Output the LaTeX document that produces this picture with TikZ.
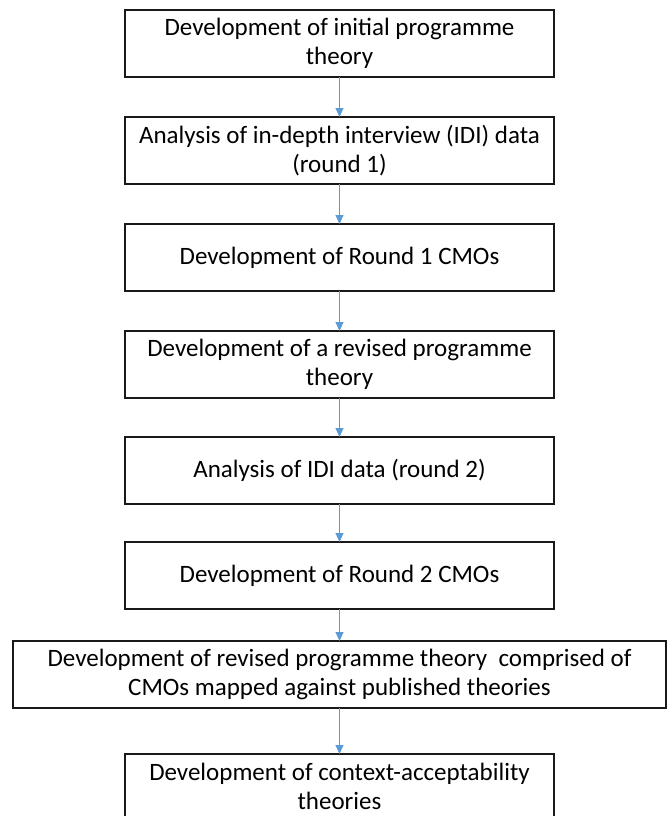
\documentclass[tikz,border=0pt]{standalone}
\usepackage{fontspec}
\setmainfont{Carlito}
\usetikzlibrary{positioning,arrows.meta}
\definecolor{flowblue}{RGB}{91,155,213}

\begin{document}
\begin{tikzpicture}[x=1pt,y=-1pt,node distance=40pt,
  stage/.style={draw=black!90, line width=1.5pt, minimum width=429pt,
    minimum height=67pt, align=center, inner sep=0pt, outer sep=0pt,
    font=\fontsize{25}{29}\selectfont},
  flow/.style={draw=flowblue, line width=0.9pt,
    -{Triangle[length=9pt,width=8pt]}}]
  \useasboundingbox (0,0) rectangle (667,816);

  % Define nodes
  \node[stage, anchor=north]          (initpt) at (339.5,10)
    {Development of initial programme\\theory};
  \node[stage, below=of initpt]       (idione) {Analysis of in-depth interview (IDI) data\\(round 1)};
  \node[stage, below=of idione]       (cmoone) {Development of Round 1 CMOs};
  \node[stage, below=of cmoone]       (revpt)  {Development of a revised programme\\theory};
  \node[stage, below=39pt of revpt]   (iditwo) {Analysis of IDI data (round 2)};
  \node[stage, below=38pt of iditwo]  (cmotwo) {Development of Round 2 CMOs};
  \node[stage, below=32pt of cmotwo, minimum width=653pt] (mappt)
    {Development of revised programme theory~ comprised of\\CMOs mapped against published theories};
  \node[stage, below=46pt of mappt, minimum height=64pt] (ctxacc)
    {Development of context-acceptability\\theories};

  % Connect the nodes
  \draw[flow] (initpt.south) -- (idione.north);
  \draw[flow] (idione.south) -- (cmoone.north);
  \draw[flow] (cmoone.south) -- (revpt.north);
  \draw[flow] (revpt.south)  -- (iditwo.north);
  \draw[flow] (iditwo.south) -- (cmotwo.north);
  \draw[flow] (cmotwo.south) -- (mappt.north);
  \draw[flow] (mappt.south)  -- (ctxacc.north);
\end{tikzpicture}
\end{document}
